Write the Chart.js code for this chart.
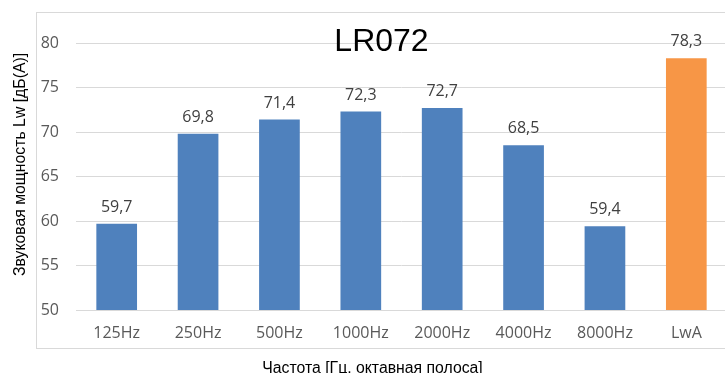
<!DOCTYPE html>
<html>
<head>
<meta charset="utf-8">
<script src="https://cdn.jsdelivr.net/npm/chart.js@4.4.0/dist/chart.umd.min.js"></script>
<style>
  html, body { margin: 0; padding: 0; background: #fff; overflow: hidden; }
  #wrap { position: relative; width: 745px; height: 373px; }
</style>
</head>
<body>
<div id="wrap"><canvas id="lwChart" width="745" height="373"></canvas></div>
<script>
const categories = ['125Hz', '250Hz', '500Hz', '1000Hz', '2000Hz', '4000Hz', '8000Hz', 'LwA'];
const levels = [59.7, 69.8, 71.4, 72.3, 72.7, 68.5, 59.4, 78.3];
const barColors = ['#4F81BD', '#4F81BD', '#4F81BD', '#4F81BD', '#4F81BD', '#4F81BD', '#4F81BD', '#F79646'];
const yTicks = [50, 55, 60, 65, 70, 75, 80];
const chartTitle = 'LR072';
const xTitle = 'Частота [Гц, октавная полоса]';
const yTitle = 'Звуковая мощность Lw [дБ(А)]';

// frame, titles and value labels drawn by hand (Excel-like layout)
const decorations = {
    id: 'decorations',
    beforeDraw(chart) {
        const ctx = chart.ctx;
        ctx.save();
        ctx.strokeStyle = '#D9D9D9';
        ctx.lineWidth = 1;
        ctx.strokeRect(36.5, 12.5, 700, 336);
        ctx.restore();
    },
    afterDraw(chart) {
        const ctx = chart.ctx;
        const area = chart.chartArea;
        ctx.save();

        // value labels
        ctx.fillStyle = '#404040';
        ctx.font = '16px "Open Sans"';
        ctx.textAlign = 'center';
        ctx.textBaseline = 'alphabetic';
        chart.getDatasetMeta(0).data.forEach(function(bar, i) {
            ctx.fillText(levels[i].toFixed(1).replace('.', ','), bar.x, bar.y - 12);
        });

        // chart title
        ctx.fillStyle = '#000';
        ctx.font = '32px "Liberation Sans"';
        ctx.fillText(chartTitle, (36 + area.right) / 2, 51);

        // axis titles
        ctx.font = '15.8px "Liberation Sans"';
        ctx.fillText(xTitle, 372.5, 372.5);
        ctx.translate(25, 164.5);
        ctx.rotate(-Math.PI / 2);
        ctx.fillText(yTitle, 0, 0);
        ctx.restore();
    }
};

const ctx = document.getElementById('lwChart').getContext('2d');
new Chart(ctx, {
    type: 'bar',
    data: {
        labels: categories,
        datasets: [{
            data: levels,
            backgroundColor: barColors,
            borderWidth: 0,
            barPercentage: 1,
            categoryPercentage: 0.5
        }]
    },
    options: {
        responsive: false,
        animation: false,
        layout: { padding: { top: 43, right: 18, bottom: 0, left: 0 } },
        plugins: {
            legend: { display: false },
            tooltip: { enabled: false }
        },
        scales: {
            x: {
                grid: { display: false, drawTicks: false },
                border: { color: '#D9D9D9', width: 1 },
                ticks: { color: '#595959', font: { family: 'Open Sans', size: 16 }, padding: 14 },
                afterFit: function(scale) { scale.height = 63; }
            },
            y: {
                min: 50,
                max: 80,
                afterBuildTicks: function(scale) {
                    scale.ticks = yTicks.map(function(v) { return { value: v }; });
                },
                grid: { color: '#D9D9D9', drawTicks: false },
                border: { display: false },
                ticks: { color: '#595959', font: { family: 'Open Sans', size: 16 }, padding: 17 },
                afterFit: function(scale) { scale.width = 76; }
            }
        }
    },
    plugins: [decorations]
});
</script>
</body>
</html>
